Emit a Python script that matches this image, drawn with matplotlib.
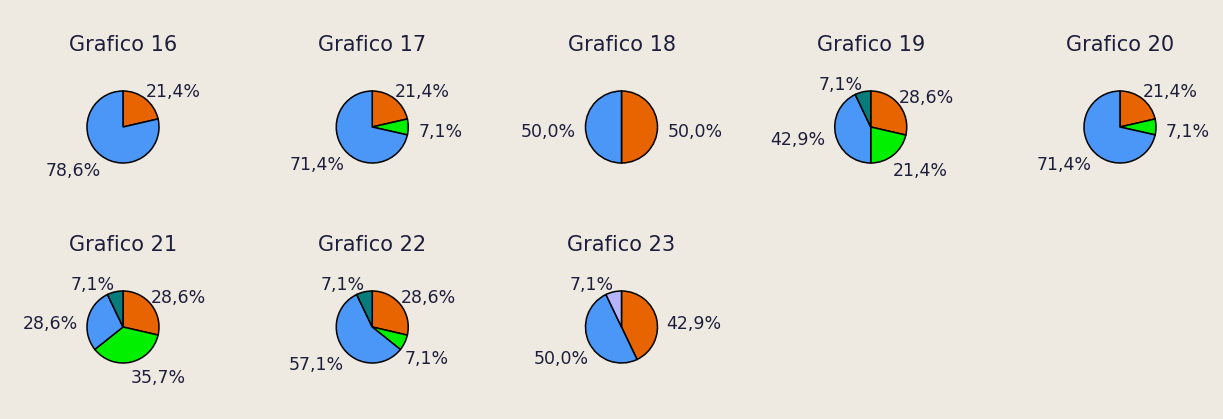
import numpy as np
import matplotlib
matplotlib.use("Agg")
import matplotlib.pyplot as plt

# chart titles and slice values (percent), slices listed clockwise from 12 o'clock
titles = ["Grafico 16", "Grafico 17", "Grafico 18", "Grafico 19", "Grafico 20",
          "Grafico 21", "Grafico 22", "Grafico 23"]
slice_keys = [
    ["A", "C"],
    ["A", "B", "C"],
    ["A", "C"],
    ["A", "B", "C", "D"],
    ["A", "B", "C"],
    ["A", "B", "C", "D"],
    ["A", "B", "C", "D"],
    ["A", "C", "E"],
]
slice_values = [
    [21.4, 78.6],
    [21.4, 7.1, 71.4],
    [50.0, 50.0],
    [28.6, 21.4, 42.9, 7.1],
    [21.4, 7.1, 71.4],
    [28.6, 35.7, 28.6, 7.1],
    [28.6, 7.1, 57.1, 7.1],
    [42.9, 50.0, 7.1],
]

palette = {"A": "#e86400", "B": "#00f000", "C": "#4b97f7", "D": "#087b7b", "E": "#b4b4ff"}
bg = "#eeeae1"
txt = "#1e1e3c"

W, H = 1223, 419
PT = 72 / 100  # points per pixel at dpi 100
R = 36          # pie radius in pixels
col_pitch, row_pitch = 249.25, 200
x0, y0 = 123, 127
ncols = 5

fig = plt.figure(figsize=(W / 100, H / 100), dpi=100, facecolor=bg)


def fmt(v):
    return f"{v:.1f}%".replace(".", ",")


for i, (title, keys, vals) in enumerate(zip(titles, slice_keys, slice_values)):
    row, col = divmod(i, ncols)
    cx = x0 + col * col_pitch
    cy = y0 + row * row_pitch
    ax = fig.add_axes([(cx - R) / W, 1 - (cy + R) / H, 2 * R / W, 2 * R / H])
    wedges, _ = ax.pie(vals, colors=[palette[k] for k in keys], startangle=90,
                       counterclock=False, radius=1,
                       wedgeprops=dict(edgecolor="black", linewidth=1.1))
    ax.set_xlim(-1, 1)
    ax.set_ylim(-1, 1)
    ax.set_aspect("equal")
    ax.axis("off")

    for w, v in zip(wedges, vals):
        a = np.deg2rad((w.theta1 + w.theta2) / 2)
        c, s = np.cos(a), np.sin(a)
        ha = "left" if c > 0 else "right"
        if abs(s) < 0.3:
            dx = 10 if c > 0 else -10
            dy, va = -5, "center"
        elif s > 0:
            dx, dy, va = 0, 2, "baseline"
        else:
            dx, dy, va = 0, -7, "top"
        ax.annotate(fmt(v), xy=(c, s), xytext=(dx * PT, dy * PT),
                    textcoords="offset points", ha=ha, va=va,
                    fontsize=12.5, color=txt, annotation_clip=False)

    ax.annotate(title, xy=(0, 1), xytext=(0, 40 * PT), textcoords="offset points",
                ha="center", va="baseline", fontsize=15, color=txt,
                annotation_clip=False)

fig.savefig("out.png", dpi=100, facecolor=bg)
